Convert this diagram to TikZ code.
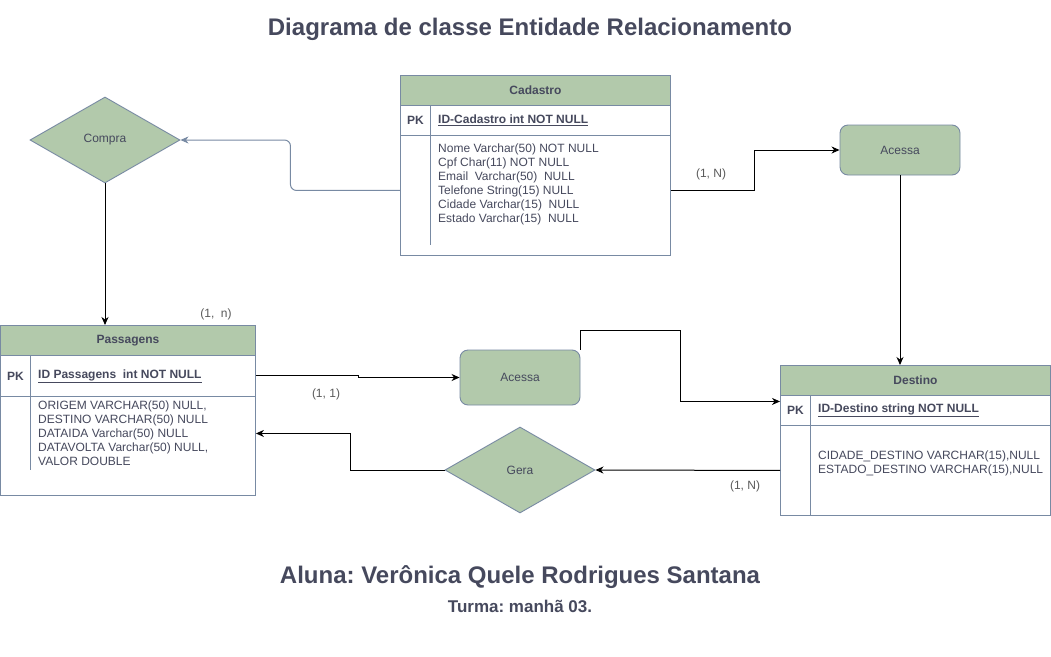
\documentclass[tikz,border=0pt]{standalone}
\usepackage{fontspec}
\setmainfont{Liberation Sans}
\usetikzlibrary{arrows.meta,shapes.geometric,calc}
\definecolor{txt}{HTML}{46495D}
\definecolor{strk}{HTML}{788AA3}
\definecolor{grn}{HTML}{B2C9AB}
\definecolor{lbl}{HTML}{5A5A5A}
\frenchspacing
\begin{document}
\begin{tikzpicture}[x=1pt,y=-1pt,
  font=\fontsize{12}{14}\selectfont, text=txt,
  box/.style={draw=strk, line width=0.9pt, inner sep=0pt, anchor=north west},
  hdr/.style={box, fill=grn, font=\fontsize{12}{14}\selectfont\bfseries},
  pk/.style={anchor=west, inner sep=0pt, font=\fontsize{12}{14}\selectfont\bfseries},
  fld/.style={anchor=base west, inner sep=0pt},
  divider/.style={draw=strk, line width=0.9pt},
  rel/.style={diamond, draw=strk, line width=0.9pt, fill=grn, inner sep=0pt, minimum width=150pt, minimum height=86pt},
  ent/.style={rectangle, rounded corners=8pt, draw=strk, line width=0.9pt, fill=grn, inner sep=0pt, minimum width=120pt},
  conn/.style={draw=black, line width=1pt, -{Stealth[length=8pt,width=7pt,inset=2.5pt]}},
  gconn/.style={draw=strk, line width=1pt, rounded corners=6pt, -{Stealth[length=8pt,width=7pt,inset=2.5pt]}},
  card/.style={text=lbl, inner sep=0pt},
  ttl/.style={inner sep=0pt, font=\fontsize{24}{28}\selectfont\bfseries}
]
\useasboundingbox (0,0) rectangle (1051,656);
\fill[white] (0,0) rectangle (1051,656);

% Titles
\node[ttl] (title) at (530,29) {Diagrama de classe Entidade Relacionamento};
\node[ttl] (aluna) at (520,577) {Aluna: Verônica Quele Rodrigues Santana};
\node[inner sep=0pt, font=\fontsize{17}{20}\selectfont\bfseries] (turma) at (520,606) {Turma: manhã 03.};

% Cadastro
\node[hdr, minimum width=270pt, minimum height=30pt] (cadH) at (400,75) {Cadastro};
\node[box, minimum width=270pt, minimum height=30pt] (cadP) at (400,105) {};
\node[box, minimum width=270pt, minimum height=120pt] (cadB) at (400,135) {};
\draw[divider] (430,105) -- (430,245);
\node[pk] (cadPK) at (407,120) {PK};
\node[pk] (cadID) at (438,120) {\underline{ID-Cadastro int NOT NULL}};
\foreach \t [count=\i] in {Nome Varchar(50) NOT NULL, Cpf Char(11) NOT NULL, Email\ \ Varchar(50)\ \ NULL, Telefone String(15) NULL, Cidade Varchar(15)\ \ NULL, Estado Varchar(15)\ \ NULL}
  \node[fld] (cadF\i) at (438,{138.5+14*\i}) {\t};

% Passagens
\node[hdr, minimum width=255pt, minimum height=30pt] (pH) at (0,325) {Passagens};
\node[box, minimum width=255pt, minimum height=41pt] (pP) at (0,355) {};
\node[box, minimum width=255pt, minimum height=99pt] (pB) at (0,396) {};
\draw[divider] (30,355) -- (30,470);
\node[pk] (pPK) at (7,376) {PK};
\node[pk] (pID) at (38,376) {\underline{ID Passagens\ \ int NOT NULL}};
\foreach \t [count=\i] in {{ORIGEM VARCHAR(50) NULL,}, DESTINO VARCHAR(50) NULL, DATAIDA Varchar(50) NULL, {DATAVOLTA Varchar(50) NULL,}, VALOR DOUBLE}
  \node[fld] (pF\i) at (38,{395.5+14*\i}) {\t};

% Destino
\node[hdr, minimum width=270pt, minimum height=30pt] (dH) at (780,365) {Destino};
\node[box, minimum width=270pt, minimum height=30pt] (dP) at (780,395) {};
\node[box, minimum width=270pt, minimum height=90pt] (dB) at (780,425) {};
\draw[divider] (810,395) -- (810,515);
\node[pk] (dPK) at (787,410) {PK};
\node[pk] (dID) at (818,410) {\underline{ID-Destino string NOT NULL}};
\node[fld] (dF1) at (818,459.5) {CIDADE\_DESTINO VARCHAR(15),NULL};
\node[fld] (dF2) at (818,473.5) {ESTADO\_DESTINO VARCHAR(15),NULL};

% Relationships
\node[rel] (compra) at (105,140) {Compra};
\node[rel] (gera) at (520,470) {Gera};
\node[ent, minimum height=50pt] (ac1) at (900,150) {Acessa};
\node[ent, minimum height=55pt] (ac2) at (520,377.5) {Acessa};

% Connectors
\draw[gconn] ($(cadB.west)+(0,-5)$) -| ($(compra.east)+(110,0)$) -- (compra.east);
\draw[conn] (compra.south) -- (compra.south |- pH.north);
\draw[conn] ($(cadB.east)+(0,-5)$) -| ($(ac1.west)+(-85,0)$) -- (ac1.west);
\draw[conn] (ac1.south) -- (ac1.south |- dH.north);
\draw[conn] (pP.east) -- ++(103,0) |- (ac2.west);
\coordinate (bendA) at (680,330);
\draw[conn] (ac2.north east) |- (bendA) |- ($(dP.west)+(0,-9)$);
\draw[conn] (dB.west) -- (gera.east);
\draw[conn] (gera.west) -| ($(pB.east)+(95,-12.5)$) -- ($(pB.east)+(0,-12.5)$);

% Cardinalities
\node[card] (c1) at (216,314) {(1,\ \ n)};
\node[card] (c2) at (711,174) {(1, N)};
\node[card] (c3) at (326,394) {(1, 1)};
\node[card] (c4) at (745,486) {(1, N)};
\end{tikzpicture}
\end{document}
